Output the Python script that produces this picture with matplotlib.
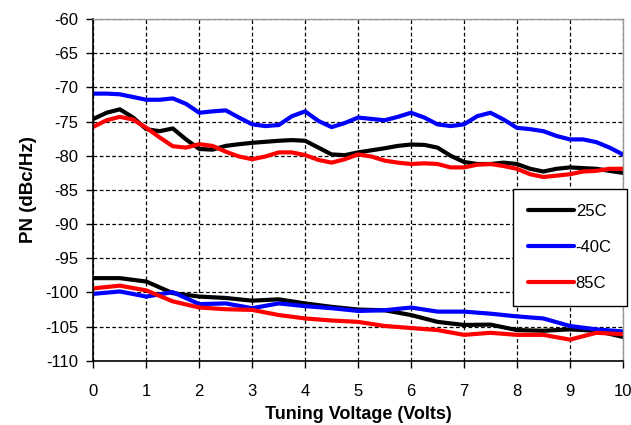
import matplotlib.pyplot as plt

plt.rcParams['font.family'] = ['Liberation Sans', 'DejaVu Sans']
plt.rcParams['axes.unicode_minus'] = False

# Tuning voltage (Volts): upper curves read every 0.25 V, lower every 0.5 V
volts_fine = [i * 0.25 for i in range(41)]
volts = [i * 0.5 for i in range(21)]

# upper group of curves (dBc/Hz)
pn_25c_hi = [-74.6, -73.7, -73.2, -74.4, -76.1, -76.4, -76.0, -77.6, -79.0, -79.1,
             -78.55, -78.3, -78.1, -77.95, -77.8, -77.7, -77.8, -78.8, -79.8, -79.9,
             -79.5, -79.2, -78.9, -78.55, -78.35, -78.4, -78.8, -80.0, -80.9, -81.2,
             -81.2, -81.0, -81.2, -81.9, -82.3, -81.9, -81.7, -81.8, -81.9, -82.2, -82.5]
pn_m40c_hi = [-70.9, -70.9, -71.0, -71.4, -71.8, -71.8, -71.6, -72.4, -73.7, -73.5,
              -73.35, -74.4, -75.4, -75.65, -75.5, -74.2, -73.5, -74.9, -75.8, -75.2,
              -74.4, -74.6, -74.8, -74.3, -73.7, -74.4, -75.4, -75.65, -75.4, -74.2,
              -73.7, -74.7, -75.9, -76.1, -76.4, -77.1, -77.6, -77.6, -78.0, -78.8, -79.8]
pn_85c_hi = [-75.75, -74.8, -74.3, -74.7, -75.9, -77.3, -78.6, -78.8, -78.3, -78.55,
             -79.4, -80.1, -80.5, -80.1, -79.5, -79.5, -79.9, -80.6, -81.0, -80.5,
             -79.8, -80.1, -80.7, -81.0, -81.2, -81.1, -81.2, -81.7, -81.7, -81.3,
             -81.2, -81.5, -81.9, -82.7, -83.1, -82.9, -82.7, -82.3, -82.2, -81.9, -81.9]

# lower group of curves (dBc/Hz)
pn_25c_lo = [-97.9, -97.9, -98.4, -100.1, -100.6, -100.8, -101.2, -101.0, -101.6, -102.1, -102.5,
             -102.6, -103.3, -104.3, -104.75, -104.7, -105.5, -105.6, -105.4, -105.6, -106.5]
pn_m40c_lo = [-100.2, -99.85, -100.6, -99.95, -101.7, -101.6, -102.3, -101.6, -102.0, -102.3, -102.7,
              -102.6, -102.2, -102.8, -102.8, -103.1, -103.5, -103.8, -104.9, -105.4, -105.7]
pn_85c_lo = [-99.4, -99.0, -99.7, -101.3, -102.2, -102.45, -102.55, -103.3, -103.8, -104.1, -104.3,
             -104.9, -105.2, -105.5, -106.2, -105.9, -106.2, -106.2, -106.9, -105.9, -106.1]

fig = plt.figure(figsize=(6.31, 4.25), dpi=100)
ax = fig.add_axes([0.148, 0.151, 0.839, 0.804])

kw = dict(lw=3.0, solid_joinstyle='round', solid_capstyle='round')
ax.plot(volts_fine, pn_25c_hi, color='black', label='25C', **kw)
ax.plot(volts_fine, pn_m40c_hi, color='#0000ff', label='-40C', **kw)
ax.plot(volts_fine, pn_85c_hi, color='#ff0000', label='85C', **kw)
ax.plot(volts, pn_25c_lo, color='black', **kw)
ax.plot(volts, pn_m40c_lo, color='#0000ff', **kw)
ax.plot(volts, pn_85c_lo, color='#ff0000', **kw)

ax.set_xlim(0, 10)
ax.set_ylim(-110, -60)
ax.set_xticks(range(0, 11))
ax.set_yticks(range(-110, -59, 5))
ax.grid(True, color='black', linestyle=(0, (3, 2)), linewidth=0.9)
ax.set_axisbelow(True)

for s in ['left', 'bottom']:
    ax.spines[s].set_color('black')
    ax.spines[s].set_linewidth(1.2)
for s in ['top', 'right']:
    ax.spines[s].set_color('#999999')
    ax.spines[s].set_linewidth(1.0)

ax.tick_params(direction='out', length=5, width=1, labelsize=12, pad=6)
ax.tick_params(axis='x', pad=12)

ax.set_xlabel('Tuning Voltage (Volts)', fontsize=13, fontweight='bold', labelpad=5)
ax.set_ylabel('PN (dBc/Hz)', fontsize=13.5, fontweight='bold', labelpad=6)

leg = ax.legend(loc='upper left', bbox_to_anchor=(0.793, 0.503), fontsize=12,
                frameon=True, fancybox=False, edgecolor='black', framealpha=1,
                handlelength=2.75, handletextpad=0.1, labelspacing=1.25,
                borderpad=0.9, borderaxespad=0)
leg.get_frame().set_linewidth(1.0)
leg.set_zorder(5)

fig.savefig('out.png', dpi=100)
